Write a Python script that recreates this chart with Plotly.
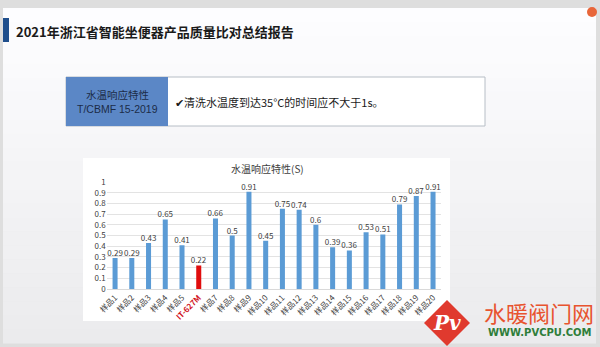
import plotly.graph_objects as go

# ---- data ----
categories = ["样品1", "样品2", "样品3", "样品4", "样品5", "IT-627M", "样品7", "样品8", "样品9", "样品10",
              "样品11", "样品12", "样品13", "样品14", "样品15", "样品16", "样品17", "样品18", "样品19", "样品20"]
values = [0.29, 0.29, 0.43, 0.65, 0.41, 0.22, 0.66, 0.5, 0.91, 0.45,
          0.75, 0.74, 0.6, 0.39, 0.36, 0.53, 0.51, 0.79, 0.87, 0.91]
highlight = "IT-627M"
y_ticks = [0, 0.1, 0.2, 0.3, 0.4, 0.5, 0.6, 0.7, 0.8, 0.9, 1]
y_tick_labels = ["0", "0.1", "0.2", "0.3", "0.4", "0.5", "0.6", "0.7", "0.8", "0.9", "1"]

W, H = 600, 347
FONT = "Noto Sans CJK SC"


def px(x):
    return x / W


def py(y):
    return 1 - y / H


colors = ["#e00d0d" if c == highlight else "#5b9bd5" for c in categories]
ticktext = [f"<span style='color:#d0101a'><b>{c}</b></span>" if c == highlight else c for c in categories]

fig = go.Figure()
fig.add_trace(go.Bar(
    x=categories, y=values, marker=dict(color=colors, line=dict(width=0)),
    width=0.3, text=[f"{v:g}" for v in values], textposition="outside", constraintext="none",
    textfont=dict(size=8, color="#404040", family=FONT), cliponaxis=False,
))

shapes = []
shapes.append(dict(type="rect", xref="paper", yref="paper", x0=0, x1=1, y0=0, y1=1,
                   fillcolor="#dedede", line=dict(width=0), layer="below"))
n = 24
top, bot = 8, 343
for i in range(n):
    y0 = top + (bot - top) * i / n
    y1 = top + (bot - top) * (i + 1) / n
    t = i / (n - 1)
    g = int(round(253 - 18 * t))
    col = f"rgb({g},{g},{min(255, g + 2)})"
    shapes.append(dict(type="rect", xref="paper", yref="paper", x0=px(3), x1=px(596),
                       y0=py(y1 + 0.5), y1=py(y0), fillcolor=col, line=dict(width=0), layer="below"))
shapes.append(dict(type="rect", xref="paper", yref="paper", x0=px(3), x1=px(9), y0=py(42), y1=py(18),
                   fillcolor="#1f4e8c", line=dict(width=0), layer="below"))
shapes.append(dict(type="rect", xref="paper", yref="paper", x0=px(66), x1=px(485), y0=py(126), y1=py(77),
                   fillcolor="#ffffff", line=dict(width=1, color="#b7bec6"), layer="below"))
shapes.append(dict(type="rect", xref="paper", yref="paper", x0=px(66), x1=px(168), y0=py(126), y1=py(77),
                   fillcolor="#5b87c6", line=dict(width=0), layer="below"))
shapes.append(dict(type="rect", xref="paper", yref="paper", x0=px(83), x1=px(450), y0=py(321), y1=py(158),
                   fillcolor="#ffffff", line=dict(width=0), layer="below"))
shapes.append(dict(type="circle", xref="paper", yref="paper", x0=px(587), x1=px(597), y0=py(17), y1=py(7),
                   fillcolor="#e8663a", line=dict(width=0)))
cx, cy, r = 447, 323, 23
shapes.append(dict(type="path", xref="paper", yref="paper",
                   path=f"M {px(cx)},{py(cy - r)} L {px(cx + r)},{py(cy)} L {px(cx)},{py(cy + r)} L {px(cx - r)},{py(cy)} Z",
                   fillcolor="#e03a2e", line=dict(width=0)))


def ann(text, x, y, size, color, xanchor="center", family=FONT, align="center"):
    return dict(text=text, x=px(x), y=py(y), xref="paper", yref="paper", xanchor=xanchor, yanchor="middle",
                font=dict(size=size, color=color, family=family), showarrow=False, align=align)


annotations = [
    ann("<b>2021年浙江省智能坐便器产品质量比对总结报告</b>", 14, 31, 13, "#1a1a1a", xanchor="left"),
    ann("水温响应特性", 117, 95, 10.5, "#1c2c48"),
    ann("T/CBMF 15-2019", 117, 108.5, 10.5, "#1c2c48", family="Liberation Sans"),
    ann("✔清洗水温度到达35°C的时间应不大于1s。", 173, 102, 11, "#1a1a1a", xanchor="left"),
    ann("水温响应特性(S)", 267, 168, 10, "#404040"),
    ann("<i><b>Pv</b></i>", 447, 323, 20, "#ffffff", family="DejaVu Serif"),
    ann("水暖阀门网", 539, 312, 22, "#e8542f"),
    ann("<b>WWW.PVCPU.COM</b>", 540, 332, 10, "#2f7d3a", family="DejaVu Sans"),
]

fig.update_layout(
    width=W, height=H, margin=dict(l=0, r=0, t=0, b=0),
    paper_bgcolor="#dedede", plot_bgcolor="rgba(0,0,0,0)",
    showlegend=False, bargap=0.7,
    shapes=shapes, annotations=annotations,
    xaxis=dict(domain=[px(106.7), px(441.4)], tickangle=-45, tickvals=categories, ticktext=ticktext,
               tickfont=dict(size=8, color="#404040", family=FONT), showgrid=False, automargin=False,
               showline=True, linecolor="#d9d9d9", linewidth=1, ticks=""),
    yaxis=dict(domain=[py(289), py(182)], range=[0, 1], tickvals=y_ticks, ticktext=y_tick_labels,
               tickfont=dict(size=8, color="#404040", family=FONT), showgrid=True, gridcolor="#e3e3e3",
               gridwidth=1, zeroline=False, ticks="", showline=False, automargin=False),
)

fig.write_html("out.html")
